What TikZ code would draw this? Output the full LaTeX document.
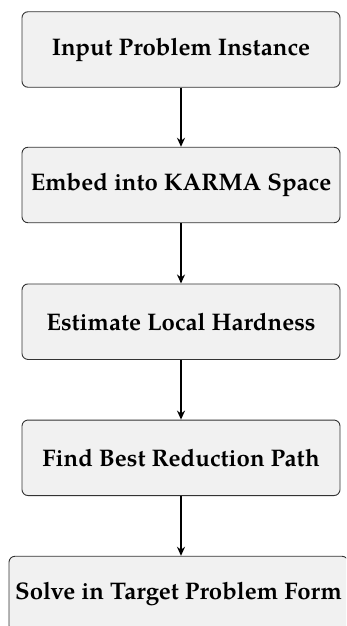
\documentclass[tikz,border=0pt]{standalone}
\usepackage{fontspec}
\setmainfont{texgyrepagella}[Extension=.otf, UprightFont=*-regular, BoldFont=*-bold, ItalicFont=*-italic, BoldItalicFont=*-bolditalic]
\usetikzlibrary{arrows.meta}
\definecolor{boxfill}{HTML}{F1F1F1}
\definecolor{boxline}{HTML}{333333}
\tikzset{
  stepbox/.style={draw=boxline, fill=boxfill, line width=0.9pt, rounded corners=6pt,
    minimum width=318pt, minimum height=75.5pt, inner xsep=6pt, align=center,
    font=\fontsize{24}{28}\selectfont\bfseries},
  flow/.style={line width=1.6pt, -{Stealth[length=9pt,width=8pt]}}
}
\begin{document}
\begin{tikzpicture}[x=1pt,y=-1pt]
  \useasboundingbox (0,0) rectangle (346,626);
  \clip (0,0) rectangle (346,626);
  \node[stepbox] (a) at (181,49.5)  {Input Problem Instance};
  \node[stepbox] (b) at (181,185)   {Embed into KARMA Space};
  \node[stepbox] (c) at (181,321.7) {Estimate Local Hardness};
  \node[stepbox] (d) at (181,457.8) {Find Best Reduction Path};
  \node[stepbox, minimum width=339pt] (e) at (178.5,594) {Solve in Target Problem Form};
  \draw[flow] (a) -- (b);
  \draw[flow] (b) -- (c);
  \draw[flow] (c) -- (d);
  \draw[flow] (d.south) -- (d.south |- e.north);
\end{tikzpicture}
\end{document}
